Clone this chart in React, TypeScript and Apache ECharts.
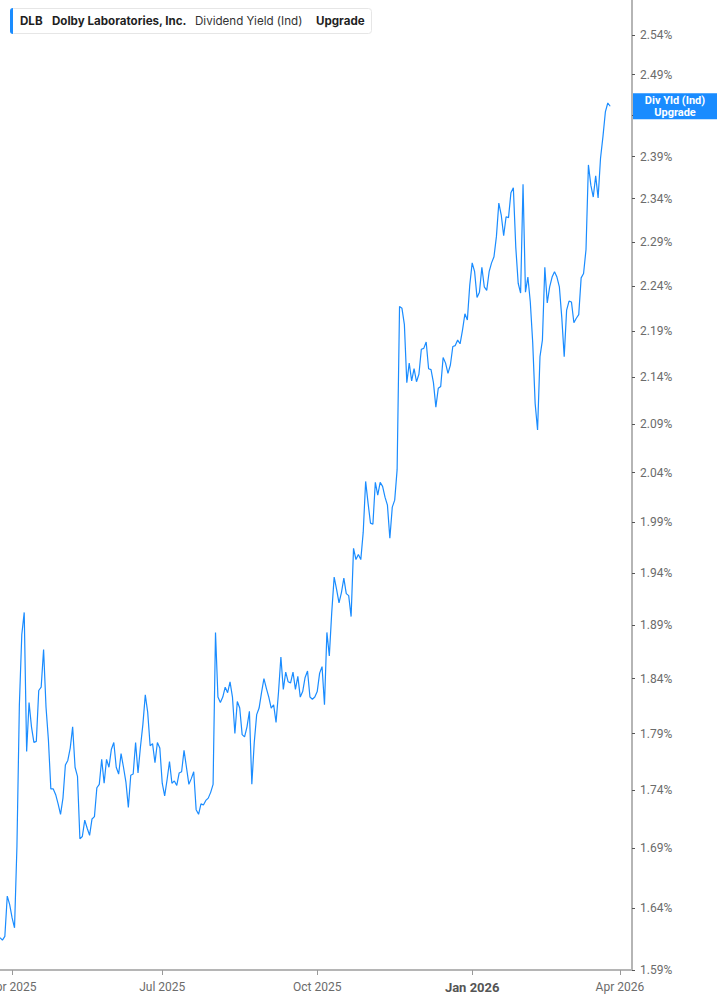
import React, { useEffect, useRef } from 'react';
import * as echarts from 'echarts';

// ---- Data ----
const START_DATE = '2025-03-25';
const END_DATE = '2026-04-09';
const MARKET_HOLIDAYS = [
  '2025-04-18', '2025-05-26', '2025-06-19', '2025-07-04', '2025-09-01',
  '2025-11-27', '2025-12-25', '2026-01-01', '2026-01-19', '2026-02-16', '2026-04-03',
];
const MONTH_NAMES = ['Jan', 'Feb', 'Mar', 'Apr', 'May', 'Jun', 'Jul', 'Aug', 'Sep', 'Oct', 'Nov', 'Dec'];
const Y_TICKS = [1.59, 1.64, 1.69, 1.74, 1.79, 1.84, 1.89, 1.94, 1.99, 2.04, 2.09, 2.14, 2.19, 2.24, 2.29, 2.34, 2.39, 2.44, 2.49, 2.54];
const Y_MIN = 1.59;
const Y_MAX = 2.585;

// Dividend yield (%) per trading day starting 2025-03-25
const YIELD_VALUES = [
  1.616, 1.614, 1.617, 1.650, 1.643, 1.632, 1.624, 1.692, 1.816, 1.881,
  1.902, 1.774, 1.818, 1.796, 1.782, 1.783, 1.829, 1.832, 1.867, 1.814,
  1.784, 1.741, 1.741, 1.736, 1.728, 1.719, 1.733, 1.762, 1.766, 1.777,
  1.796, 1.760, 1.752, 1.698, 1.700, 1.714, 1.707, 1.701, 1.715, 1.717,
  1.742, 1.745, 1.767, 1.746, 1.767, 1.760, 1.776, 1.782, 1.760, 1.754,
  1.772, 1.760, 1.747, 1.725, 1.753, 1.754, 1.782, 1.755, 1.778, 1.798,
  1.825, 1.809, 1.779, 1.781, 1.764, 1.782, 1.777, 1.746, 1.735, 1.749,
  1.765, 1.746, 1.748, 1.744, 1.755, 1.756, 1.775, 1.760, 1.745, 1.750,
  1.756, 1.723, 1.719, 1.728, 1.727, 1.731, 1.733, 1.738, 1.745, 1.883,
  1.823, 1.818, 1.823, 1.832, 1.827, 1.837, 1.823, 1.790, 1.819, 1.813,
  1.789, 1.787, 1.796, 1.810, 1.745, 1.782, 1.807, 1.813, 1.827, 1.840,
  1.831, 1.823, 1.813, 1.816, 1.800, 1.827, 1.860, 1.830, 1.846, 1.837,
  1.836, 1.846, 1.830, 1.842, 1.823, 1.828, 1.841, 1.847, 1.823, 1.821,
  1.823, 1.828, 1.845, 1.851, 1.816, 1.883, 1.861, 1.902, 1.936, 1.924,
  1.911, 1.921, 1.935, 1.920, 1.918, 1.898, 1.964, 1.953, 1.958, 1.953,
  1.980, 2.031, 2.009, 1.989, 1.988, 2.030, 2.017, 2.030, 2.026, 2.015,
  2.007, 1.974, 2.005, 2.012, 2.043, 2.217, 2.215, 2.197, 2.134, 2.155,
  2.136, 2.149, 2.135, 2.143, 2.170, 2.171, 2.178, 2.149, 2.148, 2.134,
  2.108, 2.128, 2.130, 2.161, 2.155, 2.144, 2.153, 2.173, 2.174, 2.180,
  2.176, 2.191, 2.209, 2.202, 2.241, 2.266, 2.256, 2.227, 2.233, 2.261,
  2.239, 2.235, 2.256, 2.266, 2.273, 2.296, 2.335, 2.321, 2.297, 2.319,
  2.318, 2.347, 2.353, 2.284, 2.243, 2.232, 2.357, 2.233, 2.250, 2.222,
  2.177, 2.112, 2.084, 2.162, 2.180, 2.261, 2.221, 2.239, 2.250, 2.256,
  2.250, 2.239, 2.205, 2.162, 2.213, 2.223, 2.222, 2.199, 2.204, 2.208,
  2.249, 2.254, 2.281, 2.380, 2.356, 2.342, 2.367, 2.341, 2.388, 2.414,
  2.444, 2.455, 2.451,
];

const LEGEND_TICKER = 'DLB';
const LEGEND_COMPANY = 'Dolby Laboratories, Inc.';
const LEGEND_METRIC = 'Dividend Yield (Ind)';
const LEGEND_UPGRADE = 'Upgrade';
const END_LABEL_LINES = ['Div Yld (Ind)', 'Upgrade'];

const LINE_COLOR = '#1a8cff';

function buildTradingDays(start: string, end: string, holidays: string[]): string[] {
  const out: string[] = [];
  const d = new Date(start + 'T00:00:00Z');
  const e = new Date(end + 'T00:00:00Z');
  while (d.getTime() <= e.getTime()) {
    const wd = d.getUTCDay();
    const s = d.toISOString().slice(0, 10);
    if (wd !== 0 && wd !== 6 && holidays.indexOf(s) < 0) out.push(s);
    d.setUTCDate(d.getUTCDate() + 1);
  }
  return out;
}

const CATEGORIES = buildTradingDays(START_DATE, END_DATE, MARKET_HOLIDAYS);

function quarterStarts(cats: string[]): Set<number> {
  const s = new Set<number>();
  for (let i = 1; i < cats.length; i++) {
    const m = Number(cats[i].slice(5, 7));
    const prev = Number(cats[i - 1].slice(5, 7));
    if (m !== prev && (m === 1 || m === 4 || m === 7 || m === 10)) s.add(i);
  }
  return s;
}

export default function App() {
  const ref = useRef<HTMLDivElement>(null);

  useEffect(() => {
    if (!ref.current) return;
    const chart = echarts.init(ref.current, null, { renderer: 'svg' });
    const qs = quarterStarts(CATEGORIES);
    const logTicks = Y_TICKS.map((v) => Math.log(v));
    const last = YIELD_VALUES[YIELD_VALUES.length - 1];

    const legendFont = { fontFamily: 'Inter', fontSize: 11.6, verticalAlign: 'middle' };

    const option: any = {
      animation: false,
      grid: {
        left: 0, right: 85, top: 0, bottom: 35,
        containLabel: false,
        outerBoundsMode: 'none',
      },
      xAxis: {
        type: 'category',
        data: CATEGORIES,
        boundaryGap: false,
        axisLine: { show: true, lineStyle: { color: '#b5b5b5', width: 2 } },
        axisTick: {
          show: true,
          interval: (i: number) => qs.has(i),
          length: 5,
          lineStyle: { color: '#9a9a9a', width: 1 },
        },
        axisLabel: {
          interval: (i: number) => qs.has(i),
          color: '#6b6b6b',
          fontSize: 12,
          fontFamily: 'Roboto',
          margin: 11,
          hideOverlap: false,
          formatter: (v: string) => {
            const m = Number(v.slice(5, 7));
            const txt = MONTH_NAMES[m - 1] + ' ' + v.slice(0, 4);
            return m === 1 ? '{b|' + txt + '}' : txt;
          },
          rich: {
            b: { fontWeight: 'bold', fontSize: 13, color: '#555', fontFamily: 'Roboto' },
          },
        },
        splitLine: { show: false },
      },
      yAxis: {
        type: 'value',
        position: 'right',
        min: Math.log(Y_MIN),
        max: Math.log(Y_MAX),
        axisLine: { show: true, lineStyle: { color: '#b5b5b5', width: 2 } },
        axisTick: {
          show: true,
          customValues: logTicks,
          length: 3,
          lineStyle: { color: '#555', width: 1 },
        },
        axisLabel: {
          customValues: logTicks,
          formatter: (v: number) => Math.exp(v).toFixed(2) + '%',
          color: '#6b6b6b',
          fontSize: 12,
          fontFamily: 'Roboto',
          margin: 8,
        },
        splitLine: { show: false },
      },
      graphic: [
        {
          type: 'rect',
          shape: { x: 10.5, y: 8.5, width: 361, height: 25, r: 3 },
          style: { fill: '#ffffff', stroke: '#e6e6e6', lineWidth: 1 },
          z: 100,
        },
        {
          type: 'rect',
          shape: { x: 10, y: 8, width: 3, height: 26, r: [3, 0, 0, 3] },
          style: { fill: LINE_COLOR },
          z: 101,
        },
        {
          type: 'text', x: 20, y: 21, z: 101,
          style: { ...legendFont, text: LEGEND_TICKER, fontWeight: 'bold', fill: '#1f1f1f' },
        },
        {
          type: 'text', x: 52, y: 21, z: 101,
          style: { ...legendFont, text: LEGEND_COMPANY, fontWeight: 'bold', fill: '#1f1f1f' },
        },
        {
          type: 'text', x: 195, y: 21, z: 101,
          style: { ...legendFont, text: LEGEND_METRIC, fill: '#333' },
        },
        {
          type: 'text', x: 316, y: 21, z: 101,
          style: { ...legendFont, text: LEGEND_UPGRADE, fontWeight: 'bold', fill: '#1f1f1f' },
        },
      ],
      series: [
        {
          type: 'line',
          data: YIELD_VALUES.map((v) => Math.log(v)),
          symbol: 'none',
          showSymbol: false,
          lineStyle: { color: LINE_COLOR, width: 1.2 },
          clip: true,
          z: 3,
          markLine: {
            silent: true,
            symbol: 'none',
            animation: false,
            lineStyle: { width: 0, color: 'rgba(0,0,0,0)', type: 'solid' },
            data: [{ yAxis: Math.log(last) }],
            label: {
              show: true,
              position: 'end',
              distance: 1,
              offset: [0, 7],
              backgroundColor: LINE_COLOR,
              padding: [1, 0, 1, 0],
              formatter: END_LABEL_LINES.map((t) => '{a|' + t + '}').join('\n'),
              rich: {
                a: {
                  width: 84,
                  align: 'center',
                  color: '#ffffff',
                  fontWeight: 'bold',
                  fontSize: 11,
                  lineHeight: 12,
                  fontFamily: 'Roboto',
                },
              },
            },
          },
        },
      ],
    };
    chart.setOption(option);
    return () => chart.dispose();
  }, []);

  return (
    <div
      ref={ref}
      style={{ position: 'fixed', left: 0, top: 0, width: 717, height: 1005, background: '#fff' }}
    />
  );
}
